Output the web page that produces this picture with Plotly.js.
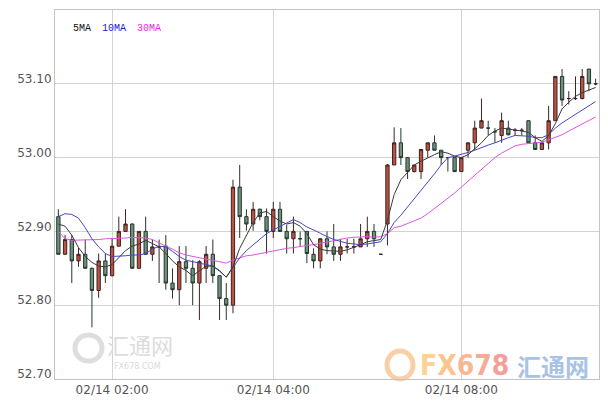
<!DOCTYPE html>
<html>
<head>
<meta charset="utf-8">
<script src="https://cdn.plot.ly/plotly-3.0.1.min.js"></script>
<style>html,body{margin:0;padding:0;background:#fff;}#chart{width:608px;height:403px;}</style>
</head>
<body>
<div id="chart"></div>
<script>
// 5-minute candles (index order)
var openP = [52.920,52.869,52.889,52.860,52.869,52.850,52.820,52.860,52.840,52.880,
             52.900,52.910,52.850,52.900,52.869,52.879,52.880,52.830,52.821,52.859,
             52.850,52.830,52.850,52.869,52.840,52.809,52.800,52.960,52.920,52.910,
             52.930,52.920,52.900,52.930,52.900,52.890,52.890,52.900,52.869,52.860,
             52.890,52.879,52.869,52.879,52.879,52.879,52.890,52.900,52.869,52.910,
             52.990,53.020,53.000,52.981,52.981,53.010,53.020,53.010,53.000,53.000,
             52.981,53.010,53.020,53.040,53.040,53.035,53.030,53.040,53.037,53.037,
             53.050,53.020,53.011,53.020,53.050,53.110,53.080,53.080,53.080,53.120,53.100];
var highP = [52.930,52.895,52.895,52.878,52.889,52.851,52.870,52.870,52.891,52.920,
             52.930,52.911,52.900,52.920,52.889,52.889,52.895,52.850,52.880,52.880,
             52.861,52.861,52.880,52.889,52.840,52.830,52.970,52.990,52.930,52.940,
             52.931,52.931,52.940,52.940,52.909,52.920,52.900,52.900,52.877,52.890,
             52.900,52.910,52.890,52.890,52.890,52.910,52.920,52.910,52.869,52.991,
             53.041,53.040,53.000,52.990,53.011,53.020,53.030,53.010,53.000,53.000,
             53.000,53.020,53.050,53.080,53.050,53.040,53.061,53.050,53.040,53.040,
             53.050,53.030,53.020,53.070,53.110,53.120,53.090,53.110,53.120,53.120,53.107];
var lowP  = [52.869,52.868,52.830,52.852,52.850,52.770,52.810,52.830,52.839,52.880,
             52.900,52.850,52.850,52.869,52.860,52.830,52.821,52.809,52.800,52.830,
             52.800,52.780,52.830,52.830,52.780,52.780,52.789,52.891,52.901,52.901,
             52.915,52.870,52.891,52.900,52.870,52.870,52.880,52.857,52.850,52.850,
             52.869,52.860,52.860,52.870,52.870,52.879,52.879,52.879,52.869,52.881,
             52.990,52.990,52.971,52.980,52.971,53.000,53.010,52.990,52.981,52.981,
             52.981,53.000,53.010,53.040,53.030,53.020,53.020,53.030,53.030,53.030,
             53.020,53.011,53.011,53.011,53.050,53.070,53.072,53.078,53.079,53.090,53.098];
var closeP = [52.869,52.889,52.860,52.869,52.850,52.820,52.860,52.840,52.880,52.900,
              52.910,52.850,52.900,52.869,52.879,52.879,52.830,52.821,52.859,52.850,
              52.830,52.859,52.869,52.840,52.809,52.800,52.960,52.920,52.910,52.930,
              52.920,52.900,52.930,52.900,52.890,52.900,52.890,52.870,52.860,52.890,
              52.879,52.869,52.879,52.879,52.879,52.890,52.900,52.890,52.869,52.990,
              53.020,53.000,52.981,52.990,53.011,53.020,53.010,53.000,53.000,52.981,
              53.000,53.020,53.040,53.050,53.040,53.035,53.050,53.031,53.037,53.037,
              53.020,53.011,53.020,53.050,53.110,53.078,53.080,53.080,53.110,53.100,53.100];
var ma5  = [52.910,52.907,52.895,52.878,52.866,52.858,52.853,52.852,52.855,52.864,
            52.874,52.880,52.883,52.888,52.884,52.879,52.870,52.860,52.852,52.847,
            52.840,52.846,52.853,52.853,52.847,52.838,52.852,52.877,52.895,52.912,
            52.925,52.927,52.920,52.914,52.910,52.912,52.907,52.897,52.882,52.876,
            52.874,52.873,52.873,52.875,52.878,52.882,52.886,52.888,52.889,52.915,
            52.950,52.970,52.980,52.990,52.995,53.000,53.004,53.008,53.006,53.002,
            53.000,53.004,53.012,53.020,53.030,53.036,53.040,53.039,53.038,53.036,
            53.034,53.027,53.022,53.030,53.046,53.066,53.075,53.083,53.088,53.092,53.095];
var ma10 = [52.920,52.924,52.923,52.918,52.905,52.890,52.879,52.870,52.866,52.866,
            52.867,52.868,52.868,52.870,52.876,52.880,52.879,52.873,52.866,52.861,
            52.859,52.858,52.856,52.853,52.846,52.838,52.851,52.864,52.874,52.882,
            52.890,52.897,52.902,52.907,52.912,52.916,52.912,52.906,52.902,52.897,
            52.893,52.889,52.886,52.884,52.883,52.882,52.883,52.884,52.886,52.897,
            52.912,52.922,52.933,52.944,52.955,52.966,52.978,52.990,53.000,53.002,
            53.004,53.007,53.010,53.014,53.017,53.020,53.024,53.027,53.030,53.030,
            53.029,53.027,53.027,53.031,53.040,53.047,53.053,53.058,53.064,53.070,53.076];
var ma30 = [52.900,52.890,52.888,52.888,52.889,52.889,52.889,52.890,52.890,52.891,
            52.891,52.892,52.892,52.891,52.889,52.884,52.880,52.876,52.871,52.868,
            52.866,52.864,52.862,52.860,52.858,52.857,52.861,52.864,52.867,52.868,
            52.870,52.871,52.874,52.876,52.877,52.878,52.880,52.881,52.882,52.884,
            52.885,52.887,52.889,52.891,52.892,52.893,52.893,52.892,52.893,52.897,
            52.905,52.907,52.911,52.914,52.918,52.924,52.931,52.937,52.944,52.952,
            52.960,52.968,52.977,52.985,52.993,53.000,53.006,53.011,53.016,53.018,
            53.019,53.019,53.021,53.024,53.027,53.031,53.036,53.041,53.045,53.050,53.055];
var tickIdx = [8, 32, 60];
var tickText = ['02/14 02:00', '02/14 04:00', '02/14 08:00'];
var yTicks = [52.70, 52.80, 52.90, 53.00, 53.10];
var yTickText = ['52.70', '52.80', '52.90', '53.00', '53.10'];

var xs = closeP.map(function (_, i) { return i; });

var W = 608, H = 403, L = 55, R = 9, T = 10, B = 24;
var pw = W - L - R, ph = H - T - B;
function px(x) { return (x - L) / pw; }
function py(y) { return (H - B - y) / ph; }

var traces = [
  {
    type: 'candlestick', x: xs, open: openP, high: highP, low: lowP, close: closeP,
    increasing: { line: { color: '#3b2420', width: 1 }, fillcolor: '#bd5244' },
    decreasing: { line: { color: '#27352c', width: 1 }, fillcolor: '#6d927d' },
    whiskerwidth: 0, hoverinfo: 'skip', showlegend: false
  },
  { type: 'scatter', mode: 'lines', x: xs, y: ma30, line: { color: '#e055e0', width: 1 }, hoverinfo: 'skip', showlegend: false },
  { type: 'scatter', mode: 'lines', x: xs, y: ma10, line: { color: '#4747c4', width: 1 }, hoverinfo: 'skip', showlegend: false },
  { type: 'scatter', mode: 'lines', x: xs, y: ma5, line: { color: '#3a3a3a', width: 1 }, hoverinfo: 'skip', showlegend: false }
];

var fxColors = ['#fcd293', '#fbc58f', '#f9b791', '#f7aa95', '#f59f9a'];
var fxText = 'FX678'.split('').map(function (c, i) {
  return '<span style="color:' + fxColors[i] + '">' + c + '</span>';
}).join('');

var layout = {
  width: W, height: H,
  margin: { l: L, r: R, t: T, b: B, pad: 0 },
  paper_bgcolor: '#ffffff', plot_bgcolor: '#ffffff',
  showlegend: false,
  xaxis: {
    range: [-0.5, 80.5], tickvals: tickIdx, ticktext: tickText,
    showgrid: true, gridcolor: '#d3d3d3', gridwidth: 1,
    showline: true, mirror: true, linecolor: '#c4c4c4', linewidth: 1,
    zeroline: false, ticks: '', ticklen: 0, ticklabelstandoff: 0, rangeslider: { visible: false },
    tickfont: { family: 'DejaVu Sans, Verdana, sans-serif', size: 12, color: '#555555' },
    fixedrange: true
  },
  yaxis: {
    range: [52.70, 53.20], tickvals: yTicks, ticktext: yTickText,
    showgrid: true, gridcolor: '#d3d3d3', gridwidth: 1,
    showline: true, mirror: true, linecolor: '#c4c4c4', linewidth: 1,
    zeroline: false, ticks: '', ticklen: 0, ticklabelshift: -5, ticklabelstandoff: 0,
    tickfont: { family: 'DejaVu Sans, Verdana, sans-serif', size: 12, color: '#555555' },
    fixedrange: true
  },
  shapes: [
    { type: 'circle', xref: 'paper', yref: 'paper', layer: 'below',
      x0: px(75), x1: px(102), y0: py(361), y1: py(335),
      line: { color: '#dedede', width: 5 } },
    { type: 'circle', xref: 'paper', yref: 'paper', layer: 'below',
      x0: px(387), x1: px(413), y0: py(379), y1: py(351),
      line: { color: '#f8cfa6', width: 5 } }
  ],
  annotations: [
    { xref: 'paper', yref: 'paper', x: px(71), y: py(28), xanchor: 'left', yanchor: 'middle', showarrow: false,
      text: '5MA', font: { family: 'Liberation Mono, monospace', size: 10, color: '#111111' } },
    { xref: 'paper', yref: 'paper', x: px(100), y: py(28), xanchor: 'left', yanchor: 'middle', showarrow: false,
      text: '10MA', font: { family: 'Liberation Mono, monospace', size: 10, color: '#2020d8' } },
    { xref: 'paper', yref: 'paper', x: px(135), y: py(28), xanchor: 'left', yanchor: 'middle', showarrow: false,
      text: '30MA', font: { family: 'Liberation Mono, monospace', size: 10, color: '#ee22ee' } },
    { xref: 'paper', yref: 'paper', x: px(140), y: py(344), xanchor: 'center', yanchor: 'middle', showarrow: false,
      text: '汇通网', font: { family: 'Noto Sans CJK SC, sans-serif', size: 22, color: '#dcdcdc' } },
    { xref: 'paper', yref: 'paper', x: px(137), y: py(366), xanchor: 'center', yanchor: 'middle', showarrow: false,
      text: 'FX678.COM', font: { family: 'DejaVu Sans, sans-serif', size: 8, color: '#dadada' } },
    { xref: 'paper', yref: 'paper', x: px(464), y: py(365), xanchor: 'center', yanchor: 'middle', showarrow: false,
      text: '<b>' + fxText + '</b>', font: { family: 'DejaVu Sans Condensed, DejaVu Sans, sans-serif', size: 28, color: '#f9b791' } },
    { xref: 'paper', yref: 'paper', x: px(553), y: py(365), xanchor: 'center', yanchor: 'middle', showarrow: false,
      text: '<b>汇通网</b>', font: { family: 'Noto Sans CJK SC, sans-serif', size: 24, color: '#a9c3e6' } }
  ]
};

Plotly.newPlot('chart', traces, layout, { staticPlot: true, displayModeBar: false });
</script>
</body>
</html>
